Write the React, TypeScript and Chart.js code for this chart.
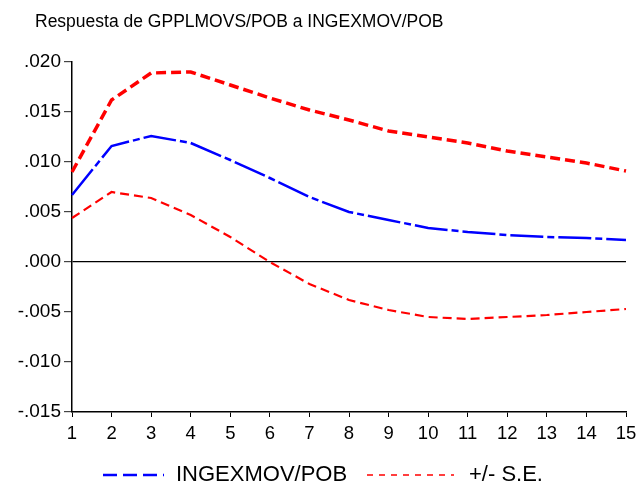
import React, { useEffect, useRef } from "react";
import { Chart, registerables } from "chart.js";

Chart.register(...registerables);

const periods = ["1","2","3","4","5","6","7","8","9","10","11","12","13","14","15"];
const irf = [0.0067, 0.0116, 0.0126, 0.0119, 0.0102, 0.0084, 0.0065, 0.0050, 0.0042, 0.0034, 0.0030, 0.0027, 0.0025, 0.0024, 0.0022];
const upperSE = [0.0090, 0.0162, 0.0189, 0.0190, 0.0177, 0.0164, 0.0152, 0.0142, 0.0131, 0.0125, 0.0119, 0.0111, 0.0105, 0.0099, 0.0091];
const lowerSE = [0.0044, 0.0070, 0.0064, 0.0047, 0.0025, 0.0000, -0.0022, -0.0038, -0.0048, -0.0055, -0.0057, -0.0055, -0.0053, -0.0050, -0.0047];
const titleText = "Respuesta de GPPLMOVS/POB a INGEXMOV/POB";
const legendLabels = ["INGEXMOV/POB", "+/- S.E."];

const FONT = "'Liberation Sans', Arial, sans-serif";

const overlay = {
  id: "overlay",
  afterDraw(chart: any) {
    const ctx = chart.ctx;
    ctx.save();
    ctx.fillStyle = "#000";
    ctx.font = `17.5px ${FONT}`;
    ctx.textBaseline = "middle";
    ctx.textAlign = "left";
    ctx.fillText(titleText, 35, 22);

    const ly = 475;
    ctx.lineWidth = 2.5;
    ctx.strokeStyle = "#0000FF";
    ctx.setLineDash([14, 6]);
    ctx.beginPath();
    ctx.moveTo(103, ly);
    ctx.lineTo(164, ly);
    ctx.stroke();
    ctx.strokeStyle = "#FF0000";
    ctx.lineWidth = 1.5;
    ctx.setLineDash([6, 6]);
    ctx.beginPath();
    ctx.moveTo(367, ly);
    ctx.lineTo(454, ly);
    ctx.stroke();
    ctx.setLineDash([]);
    ctx.font = `22px ${FONT}`;
    ctx.fillText(legendLabels[0], 176, ly);
    ctx.fillText(legendLabels[1], 469, ly);
    ctx.restore();
  },
};

export default function App() {
  const ref = useRef<HTMLCanvasElement | null>(null);
  useEffect(() => {
    document.body.style.margin = "0";
    const canvas = ref.current!;
    const chart = new Chart(canvas, {
      type: "line",
      data: {
        labels: periods,
        datasets: [
          {
            label: legendLabels[0],
            data: irf,
            borderColor: "#0000FF",
            borderWidth: 2.5,
            borderDash: [33, 4, 7, 4],
            pointRadius: 0,
            tension: 0,
            fill: false,
          },
          {
            label: legendLabels[1],
            data: upperSE,
            borderColor: "#FF0000",
            borderWidth: 3.5,
            borderDash: [10, 5],
            pointRadius: 0,
            tension: 0,
            fill: false,
          },
          {
            label: legendLabels[1] + " lower",
            data: lowerSE,
            borderColor: "#FF0000",
            borderWidth: 2.2,
            borderDash: [9, 5],
            pointRadius: 0,
            tension: 0,
            fill: false,
          },
        ],
      },
      options: {
        animation: false,
        responsive: false,
        maintainAspectRatio: false,
        layout: { padding: { top: 62, left: 0, right: 10, bottom: 43 } },
        plugins: {
          legend: { display: false },
          title: { display: false },
          tooltip: { enabled: false },
        },
        scales: {
          x: {
            type: "category",
            offset: false,
            grid: {
              display: true,
              drawOnChartArea: false,
              drawTicks: true,
              tickLength: 5,
              tickColor: "#000",
              offset: false,
            },
            border: { display: true, color: "#000", width: 1.5 },
            ticks: {
              color: "#000",
              font: { family: FONT, size: 18.5 },
              padding: 6,
              maxRotation: 0,
              autoSkip: false,
            },
            afterFit(scale: any) {
              scale.height = 30;
              scale.paddingLeft = 0;
              scale.paddingRight = 0;
            },
          },
          y: {
            min: -0.015,
            max: 0.02,
            grid: {
              display: true,
              drawOnChartArea: true,
              drawTicks: true,
              tickLength: 8,
              color: (c: any) => (c.tick && c.tick.value === 0 ? "#000" : "rgba(0,0,0,0)"),
              tickColor: "#444",
              lineWidth: 1.2,
            },
            border: { display: true, color: "#000", width: 1.5 },
            ticks: {
              stepSize: 0.005,
              color: "#000",
              font: { family: FONT, size: 19 },
              padding: 3,
              callback: (v: any) => {
                const n = Number(v);
                const s = Math.abs(n).toFixed(3).replace(/^0/, "");
                return (n < -1e-9 ? "-" : "") + s;
              },
            },
            afterFit(scale: any) {
              scale.width = 72;
            },
          },
        },
      },
      plugins: [overlay],
    });
    return () => chart.destroy();
  }, []);
  return <canvas ref={ref} width={636} height={485} style={{ display: "block" }} />;
}
